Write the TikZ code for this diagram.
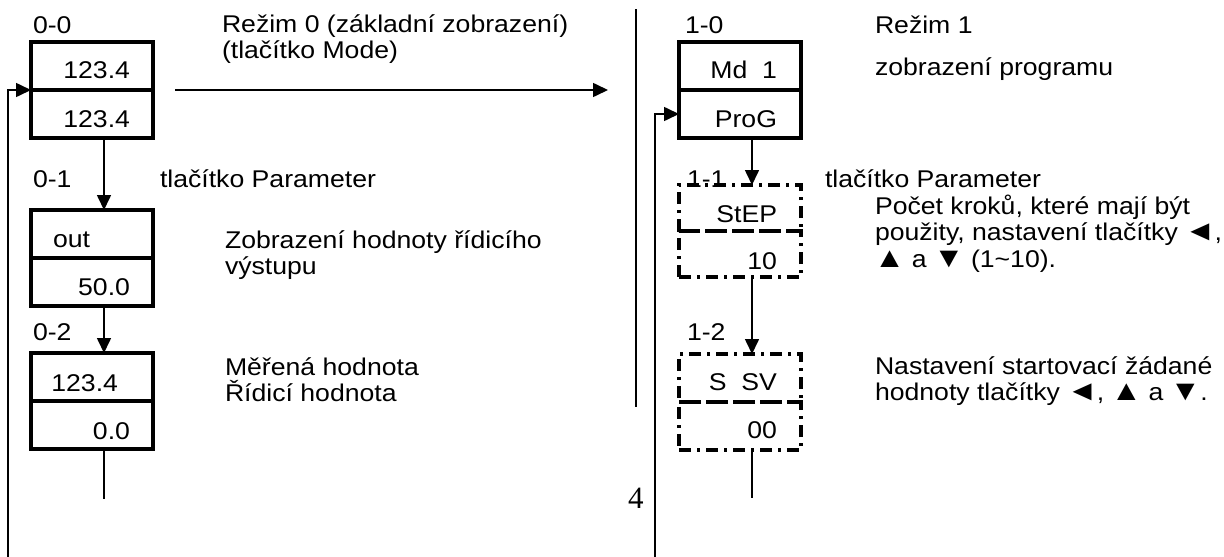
\documentclass[tikz,border=0pt]{standalone}
\usepackage{fontspec}
\setmainfont{Liberation Sans}[FakeStretch=1.1]
\newfontfamily\pagenumfont{Liberation Serif}
\usetikzlibrary{arrows.meta}
% slightly enlarged key symbol, given a little extra room on both sides
\newcommand\keytri[1]{\sbox0{#1}\makebox[1.12\wd0][c]{\scalebox{1.18}{#1}}}
\begin{document}
\begin{tikzpicture}[x=1pt,y=-1pt,
  txt/.style={font=\fontsize{24.2}{26.5}\selectfont, inner sep=0pt, outer sep=0pt},
  lbl/.style={txt, anchor=base west, align=left},
  val/.style={txt, anchor=base east},
  lval/.style={txt, anchor=base west},
  half/.style={draw, line width=3.5pt, minimum width=122pt, minimum height=48pt, inner sep=0pt, outer sep=0pt},
  dhalf/.style={half, dash pattern=on 12pt off 6pt on 3pt off 6pt},
  wire/.style={line width=1.6pt},
  flow/.style={wire, -{Triangle[length=15pt,width=14pt]}},
]
\useasboundingbox (0,0) rectangle (1224,557);

% ---- mode 0 column ----
\node[half] (b00a) at (92,66) {};
\node[half] (b00b) at (92,114) {};
\node[half] (b01a) at (92,234) {};
\node[half] (b01b) at (92,282) {};
\node[half] (b02a) at (92,377) {};
\node[half] (b02b) at (92,425) {};

\node[val] (v00a) at (130,78) {123.4};
\node[val] (v00b) at (130,127) {123.4};
\node[lval] (v01a) at (53,247) {out};
\node[val] (v01b) at (130,295) {50.0};
\node[val] (v02a) at (118,391) {123.4};
\node[val] (v02b) at (130,439) {0.0};

% multi-line labels are anchored at the baseline of their last line
\node[lbl] (l00) at (33,33) {0-0};
\node[lbl] (l01) at (33,187) {0-1};
\node[lbl] (l02) at (33,340) {0-2};
\node[lbl] (t0) at (222,58.5) {Režim 0 (základní zobrazení)\\(tlačítko Mode)};
\node[lbl] (t01) at (160,187) {tlačítko Parameter};
\node[lbl] (t02) at (225,274.5) {Zobrazení hodnoty řídicího\\výstupu};
\node[lbl] (t03) at (225,401.5) {Měřená hodnota\\Řídicí hodnota};

\draw[flow] ([xshift=12pt]b00b.south) -- ([xshift=12pt]b01a.north);
\draw[flow] ([xshift=12pt]b01b.south) -- ([xshift=12pt]b02a.north);
\coordinate (e0) at (104,499);
\draw[wire] (b02b.south -| e0) -- (e0);

\coordinate (fb0) at (8,557);
\draw[flow] (fb0) |- (b00b.north west);

\coordinate (m0) at (175,90);
\coordinate (m1) at (608,90);
\draw[flow] (m0) -- (m1);

% ---- separator and page number ----
\coordinate (s0) at (636,9);
\coordinate (s1) at (636,407);
\draw[wire] (s0) -- (s1);
\node[txt, font=\pagenumfont\fontsize{31}{31}\selectfont, anchor=base west] (pg) at (628,508) {4};

% ---- mode 1 column ----
\node[half] (b10a) at (740,66) {};
\node[half] (b10b) at (740,114) {};
\node[dhalf, minimum height=46pt] (b11a) at (740,208) {};
\node[dhalf, minimum height=46pt] (b11b) at (740,254) {};
\node[dhalf] (b12a) at (740,378) {};
\node[dhalf] (b12b) at (740,426) {};

\node[val] (v10a) at (777,78) {Md\ \ 1};
\node[val] (v10b) at (777,127) {ProG};
\node[val] (v11a) at (777,222) {StEP};
\node[val] (v11b) at (777,269) {10};
\node[val] (v12a) at (777,390) {S\ \ SV};
\node[val] (v12b) at (777,438) {00};

\node[lbl] (l10) at (685,33) {1-0};
\node[lbl] (l11) at (687,187) {1-1};
\node[lbl] (l12) at (687,340) {1-2};
\node[lbl] (t1) at (875,33) {Režim 1};
\node[lbl] (t10) at (875,75) {zobrazení programu};
\node[lbl] (t11) at (825,187) {tlačítko Parameter};
\node[lbl] (t12) at (875,267) {Počet kroků, které mají být\\použity, nastavení tlačítky \keytri{◄},\\\keytri{▲} a \keytri{▼} (1\textasciitilde10).};
\node[lbl] (t13) at (875,400.5) {Nastavení startovací žádané\\hodnoty tlačítky \keytri{◄}, \keytri{▲} a \keytri{▼}.};

\draw[flow] ([xshift=12pt]b10b.south) -- ([xshift=12pt]b11a.north);
\draw[flow] ([xshift=12pt]b11b.south) -- ([xshift=12pt]b12a.north);
\coordinate (e1) at (752,498);
\draw[wire] (b12b.south -| e1) -- (e1);

\coordinate (fb1) at (655,557);
\draw[flow] (fb1) |- (b10b.west);
\end{tikzpicture}
\end{document}
